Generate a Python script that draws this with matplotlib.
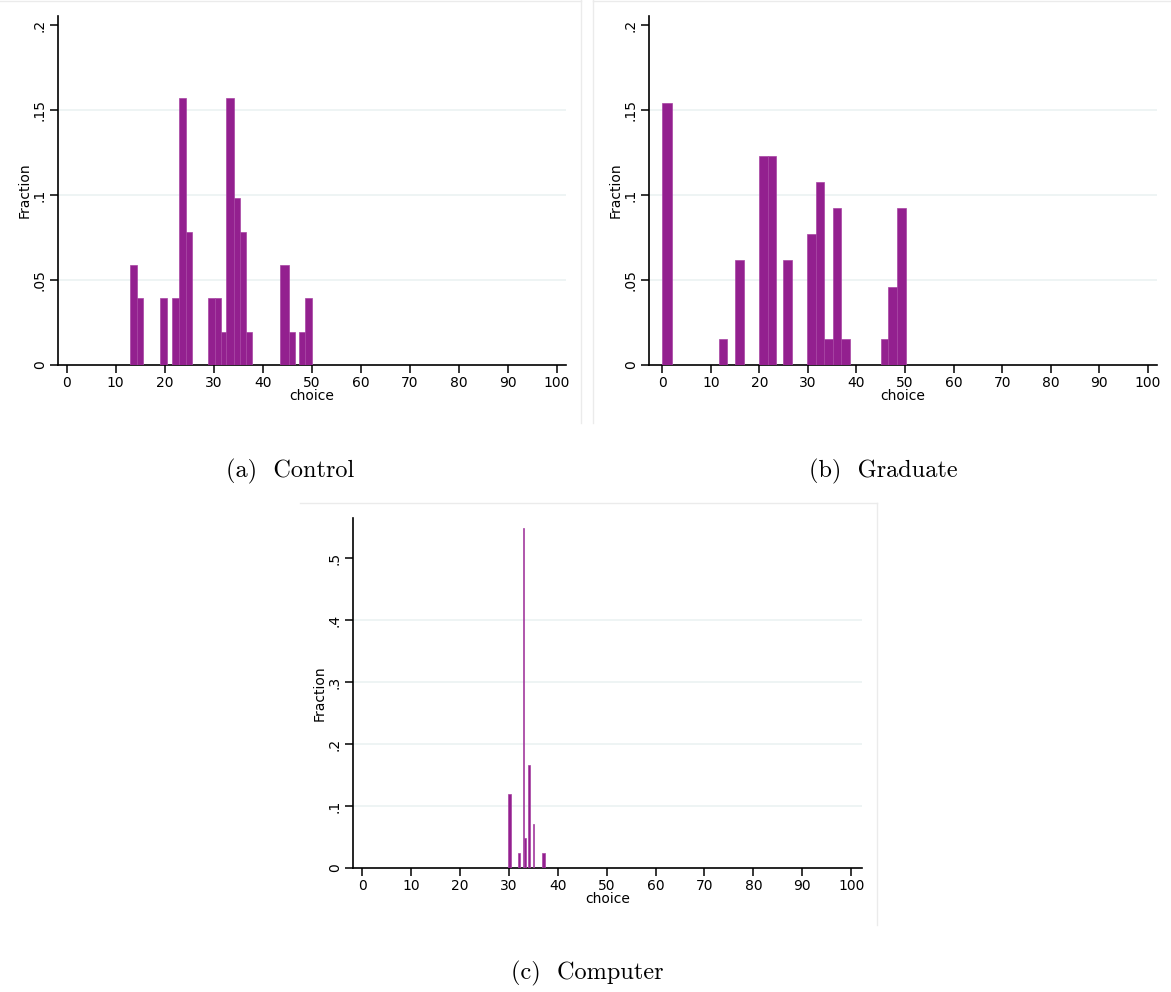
import matplotlib
matplotlib.use('Agg')
import matplotlib.pyplot as plt
from matplotlib.lines import Line2D

# (a) Control: bin edges on choice axis and fraction of subjects
ctrl_lo = [12.97, 14.40, 18.96, 21.41, 22.84, 24.34, 28.90, 30.19, 31.42, 32.51, 34.21, 35.37, 36.59, 43.54, 45.31, 47.42, 48.65]
ctrl_hi = [14.40, 15.62, 20.46, 22.84, 24.34, 25.56, 30.19, 31.42, 32.51, 34.21, 35.37, 36.59, 37.82, 45.31, 46.54, 48.65, 50.08]
ctrl_frac = [3/51, 2/51, 2/51, 2/51, 8/51, 4/51, 2/51, 2/51, 1/51, 8/51, 5/51, 4/51, 1/51, 3/51, 1/51, 1/51, 2/51]

# (b) Graduate
grad_lo = [-0.13, 11.69, 15.06, 19.94, 21.73, 24.96, 29.84, 31.69, 33.41, 35.06, 36.78, 45.02, 46.47, 48.32]
grad_hi = [2.00, 13.41, 16.78, 21.73, 23.44, 26.81, 31.69, 33.41, 35.06, 36.78, 38.57, 46.47, 48.32, 50.10]
grad_frac = [10/65, 1/65, 4/65, 8/65, 8/65, 4/65, 5/65, 7/65, 1/65, 6/65, 1/65, 1/65, 3/65, 6/65]

# (c) Computer
comp_lo = [29.86, 31.90, 32.86, 33.13, 34.03, 34.97, 36.80]
comp_hi = [30.55, 32.30, 33.13, 33.48, 34.30, 35.25, 37.36]
comp_frac = [5/42, 1/42, 23/42, 2/42, 7/42, 3/42, 1/42]

x_ticks = list(range(0, 101, 10))

W, H = 1171, 992
fig = plt.figure(figsize=(W / 100, H / 100), dpi=100)

bar_color = '#93208f'
edge_color = '#a744a3'
grid_color = '#e9f1f1'


def panel(rect, lo, hi, frac, yticks, ylabels, ylim, xlim):
    l, t, r, b = rect
    ax = fig.add_axes([l / W, 1 - b / H, (r - l) / W, (b - t) / H])
    widths = [h - s for s, h in zip(lo, hi)]
    ax.bar(lo, frac, width=widths, align='edge', color=bar_color,
           edgecolor=edge_color, linewidth=0.5, zorder=3)
    ax.set_xlim(*xlim)
    ax.set_ylim(*ylim)
    ax.set_xticks(x_ticks)
    ax.set_yticks(yticks)
    ax.set_yticklabels(ylabels)
    for yv in yticks[1:-1]:
        ax.axhline(yv, color=grid_color, lw=1.1, zorder=1)
    for s in ['top', 'right']:
        ax.spines[s].set_visible(False)
    for s in ['left', 'bottom']:
        ax.spines[s].set_linewidth(1.2)
    ax.tick_params(axis='both', length=6, width=1.1, labelsize=10, pad=2)
    ax.tick_params(axis='y', labelrotation=90)
    for lab in ax.get_yticklabels():
        lab.set_va('center')
    ax.set_xlabel('choice', fontsize=10, labelpad=-1)
    ax.set_ylabel('Fraction', fontsize=10, labelpad=1)
    return ax


panel((58, 16, 566, 365), ctrl_lo, ctrl_hi, ctrl_frac,
      [0, .05, .1, .15, .2], ['0', '.05', '.1', '.15', '.2'],
      (0, 0.2053), (-1.75, 101.9))
panel((649, 16, 1157, 365), grad_lo, grad_hi, grad_frac,
      [0, .05, .1, .15, .2], ['0', '.05', '.1', '.15', '.2'],
      (0, 0.2053), (-2.74, 101.9))
panel((353, 518, 862, 868), comp_lo, comp_hi, comp_frac,
      [0, .1, .2, .3, .4, .5], ['0', '.1', '.2', '.3', '.4', '.5'],
      (0, 0.5645), (-1.84, 102.2))

# faint graph-region borders
border = '#ebebeb'
for xs, ys in [((581, 581), (0, 423)), ((0, 581), (1, 1)),
               ((593, 593), (0, 423)), ((593, 1171), (1, 1)),
               ((877, 877), (503, 925)), ((300, 877), (503, 503))]:
    fig.add_artist(Line2D([x / W for x in xs], [1 - y / H for y in ys],
                          color=border, lw=1))

cap = dict(fontsize=17.5, family='cmr10', ha='center', va='center')
fig.text(290 / W, 1 - 471 / H, '(a)  Control', **cap)
fig.text(883 / W, 1 - 471 / H, '(b)  Graduate', **cap)
fig.text(587 / W, 1 - 973 / H, '(c)  Computer', **cap)

fig.savefig('out.png', dpi=100)
